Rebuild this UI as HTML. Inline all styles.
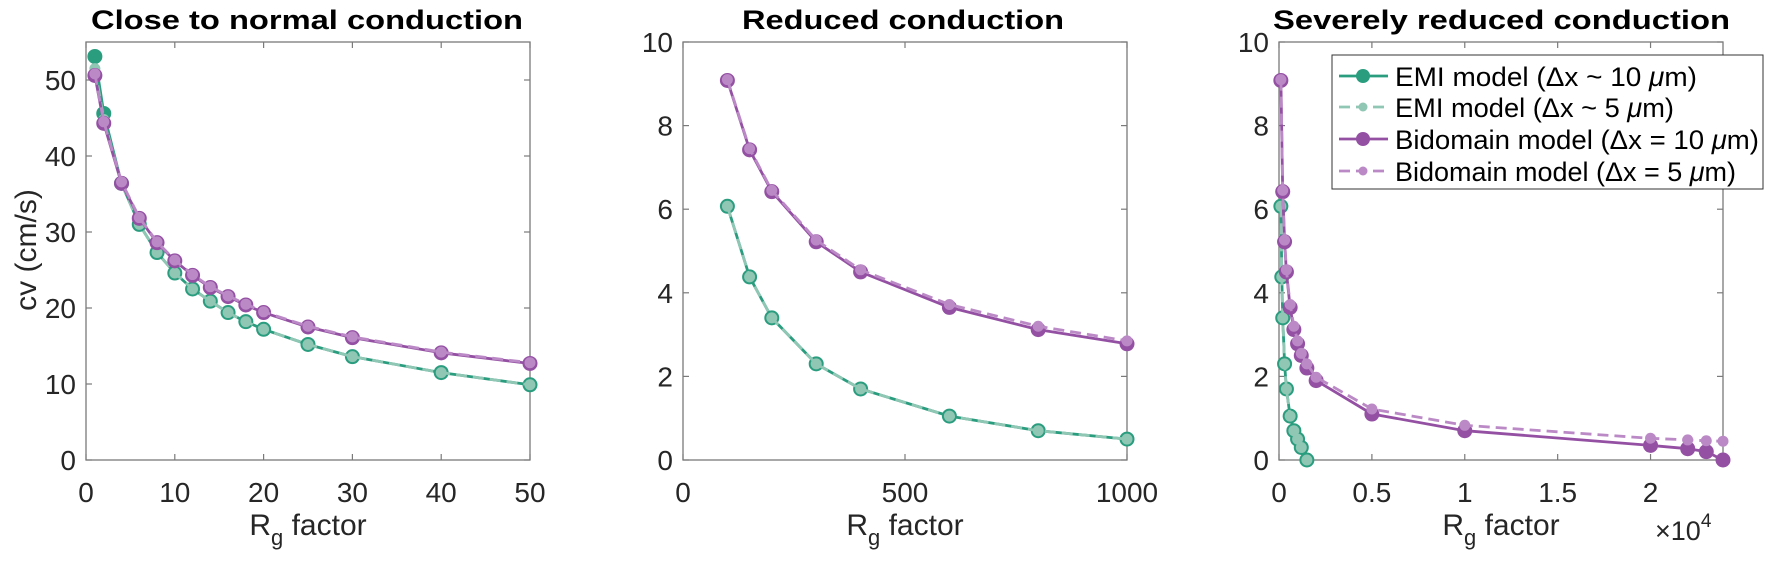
<!DOCTYPE html>
<html><head><meta charset="utf-8"><style>
html,body{margin:0;padding:0;background:#fff;}
svg{display:block;font-family:"Liberation Sans",sans-serif;}
</style></head><body>
<svg id="fig" width="1772" height="567" viewBox="0 0 1772 567" xmlns="http://www.w3.org/2000/svg"></svg>
<script>
// Panel 1 data
const p1X = [1,2,4,6,8,10,12,14,16,18,20,25,30,40,50];
const p1Emi10 = [53.1,45.6,36.4,31.0,27.3,24.6,22.5,20.9,19.4,18.2,17.2,15.2,13.6,11.5,9.9];
const p1Emi5 = [51.5,44.8,36.3,31.0,27.3,24.6,22.5,20.9,19.4,18.2,17.2,15.2,13.6,11.5,9.9];
const p1Bid10 = [50.6,44.3,36.4,31.8,28.6,26.2,24.3,22.7,21.5,20.4,19.4,17.5,16.1,14.1,12.7];
const p1Bid5 = [50.8,44.5,36.6,31.9,28.7,26.3,24.4,22.8,21.6,20.5,19.5,17.6,16.2,14.2,12.8];
// Panel 2 data
const p2X = [100,150,200,300,400,600,800,1000];
const p2Emi10 = [6.07,4.38,3.4,2.3,1.7,1.05,0.7,0.5];
const p2Emi5 = [6.07,4.38,3.4,2.3,1.7,1.05,0.7,0.5];
const p2Bid10 = [9.08,7.42,6.42,5.22,4.5,3.65,3.12,2.78];
const p2Bid5 = [9.1,7.45,6.45,5.26,4.55,3.72,3.2,2.85];
// Panel 3 data
const p3EmiX = [100,150,200,300,400,600,800,1000,1200,1500];
const p3Emi10 = [6.07,4.38,3.4,2.3,1.7,1.05,0.7,0.5,0.3,0];
const p3Emi5 = [6.07,4.38,3.4,2.3,1.7,1.05,0.7,0.5,0.3,0];
const p3BidX = [100,200,300,400,600,800,1000,1200,1500,2000,5000,10000,20000,22000,23000,23900];
const p3Bid10 = [9.08,6.42,5.22,4.5,3.65,3.12,2.78,2.5,2.2,1.9,1.1,0.7,0.35,0.27,0.2,0];
const p3Bid5 = [9.1,6.45,5.26,4.55,3.72,3.2,2.85,2.55,2.3,1.98,1.22,0.83,0.52,0.48,0.46,0.45];
// Ticks
const p1XTicks = [0,10,20,30,40,50];
const p1YTicks = [0,10,20,30,40,50];
const p2XTicks = [0,500,1000];
const p2YTicks = [0,2,4,6,8,10];
const p3XTicks = [0,5000,10000,15000,20000];
const p3XTickLabels = ["0","0.5","1","1.5","2"];
const p3YTicks = [0,2,4,6,8,10];

const NS="http://www.w3.org/2000/svg";
const svg=document.getElementById('fig');
function el(tag,attrs,parent){const e=document.createElementNS(NS,tag);for(const k in attrs)e.setAttribute(k,attrs[k]);(parent||svg).appendChild(e);return e;}

const C={emi10:"#2a9d7f",emi5:"#8fc6b4",bid10:"#9450a3",bid5:"#bb8ac6"};
const TOP=42,BOT=460;

function panel(name,L,R,xmax,ymax,xt,xtl,yt,title,tL,tR,series){
  const g=el('g',{});
  
  
  const sx=v=>L+(v/xmax)*(R-L), sy=v=>BOT-(v/ymax)*(BOT-TOP);
  const box=el('rect',{x:L,y:TOP,width:R-L,height:BOT-TOP,fill:"none",stroke:"#7a7a7a","stroke-width":1.3},g);
  
  
  xt.forEach((t,i)=>{
    const x=sx(t);
    el('line',{x1:x,x2:x,y1:BOT,y2:BOT-6,stroke:"#7a7a7a","stroke-width":1.2},g);
    el('line',{x1:x,x2:x,y1:TOP,y2:TOP+6,stroke:"#7a7a7a","stroke-width":1.2},g);
    const tx=el('text',{x:x,y:BOT+42,"text-anchor":"middle","font-size":28,fill:"#262626"},g);
    tx.textContent=xtl?xtl[i]:String(t);
    
    
  });
  yt.forEach(t=>{
    const y=sy(t);
    el('line',{x1:L,x2:L+6,y1:y,y2:y,stroke:"#7a7a7a","stroke-width":1.2},g);
    el('line',{x1:R,x2:R-6,y1:y,y2:y,stroke:"#7a7a7a","stroke-width":1.2},g);
    const ty=el('text',{x:L-10,y:y+10,"text-anchor":"end","font-size":28,fill:"#262626"},g);
    ty.textContent=String(t);
    
    
  });
  const tt=el('text',{x:tL,y:29,"font-size":27,"font-weight":"bold",fill:"#000",textLength:tR-tL,lengthAdjust:"spacingAndGlyphs"},g);
  tt.textContent=title;
  
  
  const xl=el('text',{x:(L+R)/2,y:535,"text-anchor":"middle","font-size":30,fill:"#262626"},g);
  xl.innerHTML='R<tspan dy="10" font-size="22">g</tspan><tspan dy="-10"> factor</tspan>';
  
  
  const clip='clip-'+name;
  const cp=el('clipPath',{id:clip},g);
  el('rect',{x:L-8,y:TOP-1,width:R-L+16,height:BOT-TOP+10},cp);
  const dg=el('g',{"clip-path":"url(#"+clip+")"},g);
  series.forEach(s=>{
    const sg=el('g',{},dg);
    
    
    const pts=s.x.map((v,i)=>sx(v).toFixed(1)+","+sy(s.y[i]).toFixed(1)).join(" ");
    const pl=el('polyline',{points:pts,fill:"none",stroke:s.c,"stroke-width":2.8,"stroke-dasharray":s.dash?"11 6":"none","stroke-linejoin":"round"},sg);
    
    
    s.x.forEach((v,i)=>{
      const m=el('circle',{cx:sx(v),cy:sy(s.y[i]),r:s.r,fill:s.c},sg);
      
      
    });
  });
  return g;
}
function ser(name,x,y,key,dash,r){return {name:name,x:x,y:y,c:C[key],dash:dash,r:r};}

panel('panel-close-to-normal',86,530,50,55,p1XTicks,null,p1YTicks,'Close to normal conduction',91,523,[
  ser('emi-10um',p1X,p1Emi10,'emi10',false,7.5),ser('emi-5um',p1X,p1Emi5,'emi5',true,5.5),
  ser('bidomain-10um',p1X,p1Bid10,'bid10',false,7.5),ser('bidomain-5um',p1X,p1Bid5,'bid5',true,5.5)]);
panel('panel-reduced',683,1127,1000,10,p2XTicks,null,p2YTicks,'Reduced conduction',742,1064,[
  ser('emi-10um',p2X,p2Emi10,'emi10',false,7.5),ser('emi-5um',p2X,p2Emi5,'emi5',true,5.5),
  ser('bidomain-10um',p2X,p2Bid10,'bid10',false,7.5),ser('bidomain-5um',p2X,p2Bid5,'bid5',true,5.5)]);
panel('panel-severely-reduced',1279,1723,23900,10,p3XTicks,p3XTickLabels,p3YTicks,'Severely reduced conduction',1273,1730,[
  ser('emi-10um',p3EmiX,p3Emi10,'emi10',false,7.5),ser('emi-5um',p3EmiX,p3Emi5,'emi5',true,5.5),
  ser('bidomain-10um',p3BidX,p3Bid10,'bid10',false,7.5),ser('bidomain-5um',p3BidX,p3Bid5,'bid5',true,5.5)]);

// y axis title
const yl=el('text',{x:0,y:0,transform:"translate(36,250) rotate(-90)","text-anchor":"middle","font-size":30,fill:"#262626"});
yl.textContent='cv (cm/s)';


// x10^4
const ex=el('text',{x:1655,y:540,"font-size":27,fill:"#262626"});
ex.innerHTML='×10<tspan dy="-13" font-size="19">4</tspan>';



// legend
const lg=el('g',{});


el('rect',{x:1332,y:55,width:431,height:134,fill:"#fff",stroke:"#333","stroke-width":1},lg);
const items=[['EMI model (Δx ~ 10 ','emi10',false,7],['EMI model (Δx ~ 5 ','emi5',true,4.5],['Bidomain model (Δx = 10 ','bid10',false,7],['Bidomain model (Δx = 5 ','bid5',true,4.5]];
const rows=[76,107,139,171];
const widths=[302,279,364,341];
items.forEach((it,i)=>{
  const y=rows[i];
  const e=el('g',{},lg);
  
  
  el('line',{x1:1339,x2:1388,y1:y,y2:y,stroke:C[it[1]],"stroke-width":2.8,"stroke-dasharray":it[2]?"11 6":"none"},e);
  el('circle',{cx:1363,cy:y,r:it[3],fill:C[it[1]]},e);
  const t=el('text',{x:1395,y:y+10,"font-size":27,fill:"#000",textLength:widths[i],lengthAdjust:"spacingAndGlyphs"},e);
  t.innerHTML=it[0]+'<tspan font-style="italic">μ</tspan>m)';
});
</script>
</body></html>
